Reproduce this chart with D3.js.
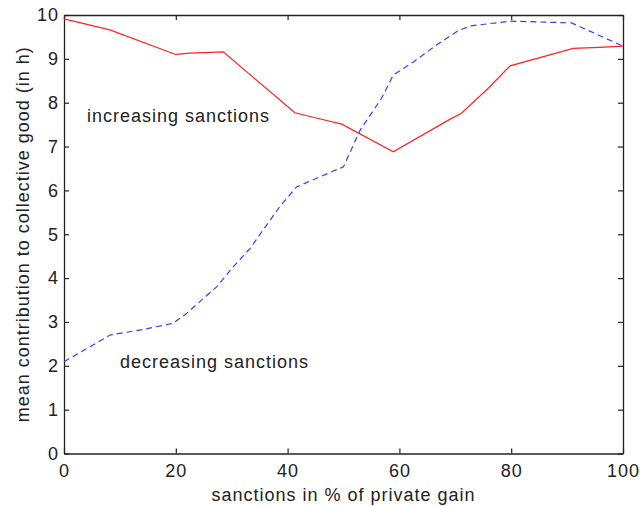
<!DOCTYPE html>
<html>
<head>
<meta charset="utf-8">
<script src="https://cdn.jsdelivr.net/npm/d3@7"></script>
<style>
  html, body { margin: 0; padding: 0; background: #fff; }
  svg { display: block; font-family: "Liberation Sans", Arial, sans-serif; }
  text { letter-spacing: 1px; }
</style>
</head>
<body>
<svg id="chart" width="640" height="506"></svg>
<script>
// Mean contribution under increasing vs decreasing sanction levels
const increasingX = [0, 8.2, 20, 22.5, 28.5, 41.3, 45.5, 49.7, 58.9, 69, 71.1, 75.9, 79.8, 91.1, 95.7, 100];
const increasingY = [9.91, 9.66, 9.10, 9.13, 9.16, 7.77, 7.64, 7.51, 6.88, 7.62, 7.76, 8.33, 8.84, 9.24, 9.26, 9.29];

const decreasingX = [0, 8.2, 14.2, 19.5, 21.6, 27.3, 30.3, 33.3, 38.6, 41.6, 50, 53, 56.8, 58.9, 60.7, 62.5, 66.7, 70.5, 72.7, 79.8, 90.8, 100];
const decreasingY = [2.09, 2.70, 2.83, 2.97, 3.16, 3.80, 4.26, 4.68, 5.63, 6.08, 6.54, 7.38, 8.10, 8.63, 8.78, 8.93, 9.32, 9.64, 9.75, 9.86, 9.82, 9.29];

const xTicks = [0, 20, 40, 60, 80, 100];
const yTicks = [0, 1, 2, 3, 4, 5, 6, 7, 8, 9, 10];

const xTitle = "sanctions in % of private gain";
const yTitle = "mean contribution to collective good (in h)";
const incLabel = "increasing sanctions";
const decLabel = "decreasing sanctions";

const svg = d3.select("#chart");
const plotLeft = 64, plotRight = 623, plotTop = 15, plotBottom = 453.5;

const x = d3.scaleLinear().domain([0, 100]).range([plotLeft, plotRight]);
const y = d3.scaleLinear().domain([0, 10]).range([plotBottom, plotTop]);

const axisColor = "#222";
const tickLen = 5;
const fontSize = "18px";

// Axes with inward ticks on all four sides
const gx = svg.append("g").attr("transform", `translate(0,${plotBottom})`)
  .call(d3.axisBottom(x).tickValues(xTicks).tickSizeInner(-tickLen).tickSizeOuter(0).tickPadding(11));
const gy = svg.append("g").attr("transform", `translate(${plotLeft},0)`)
  .call(d3.axisLeft(y).tickValues(yTicks).tickSizeInner(-tickLen).tickSizeOuter(0).tickPadding(5));
const gxt = svg.append("g").attr("transform", `translate(0,${plotTop})`)
  .call(d3.axisTop(x).tickValues(xTicks).tickSizeInner(-tickLen).tickSizeOuter(0).tickFormat(""));
const gyr = svg.append("g").attr("transform", `translate(${plotRight},0)`)
  .call(d3.axisRight(y).tickValues(yTicks).tickSizeInner(-tickLen).tickSizeOuter(0).tickFormat(""));

[gx, gy, gxt, gyr].forEach(g => {
  g.select(".domain").attr("stroke", axisColor).attr("stroke-width", 1.3);
  g.selectAll(".tick line").attr("stroke", axisColor).attr("stroke-width", 1.2);
  g.selectAll(".tick text").attr("fill", axisColor).style("font-size", fontSize)
    .style("font-family", '"Liberation Sans", Arial, sans-serif');
});

// Lines
const lineGen = d3.line().x(d => x(d[0])).y(d => y(d[1]));

svg.append("path")
  .datum(decreasingX.map((v, i) => [v, decreasingY[i]]))
  .attr("d", lineGen)
  .attr("fill", "none")
  .attr("stroke", "#3b3bff")
  .attr("stroke-width", 1.2)
  .attr("stroke-dasharray", "6,4");

svg.append("path")
  .datum(increasingX.map((v, i) => [v, increasingY[i]]))
  .attr("d", lineGen)
  .attr("fill", "none")
  .attr("stroke", "#ff2020")
  .attr("stroke-width", 1.2);

// Text annotations
svg.append("text").attr("x", 87).attr("y", 122).attr("fill", axisColor)
  .style("font-size", fontSize).text(incLabel);
svg.append("text").attr("x", 120).attr("y", 368).attr("fill", axisColor)
  .style("font-size", fontSize).text(decLabel);

// Axis titles
svg.append("text").attr("x", (plotLeft + plotRight) / 2).attr("y", 501).attr("text-anchor", "middle")
  .attr("fill", axisColor).style("font-size", fontSize).text(xTitle);
svg.append("text").attr("transform", `translate(29,${(plotTop + plotBottom) / 2}) rotate(-90)`)
  .attr("text-anchor", "middle").attr("fill", axisColor).style("font-size", fontSize).text(yTitle);
</script>
</body>
</html>
